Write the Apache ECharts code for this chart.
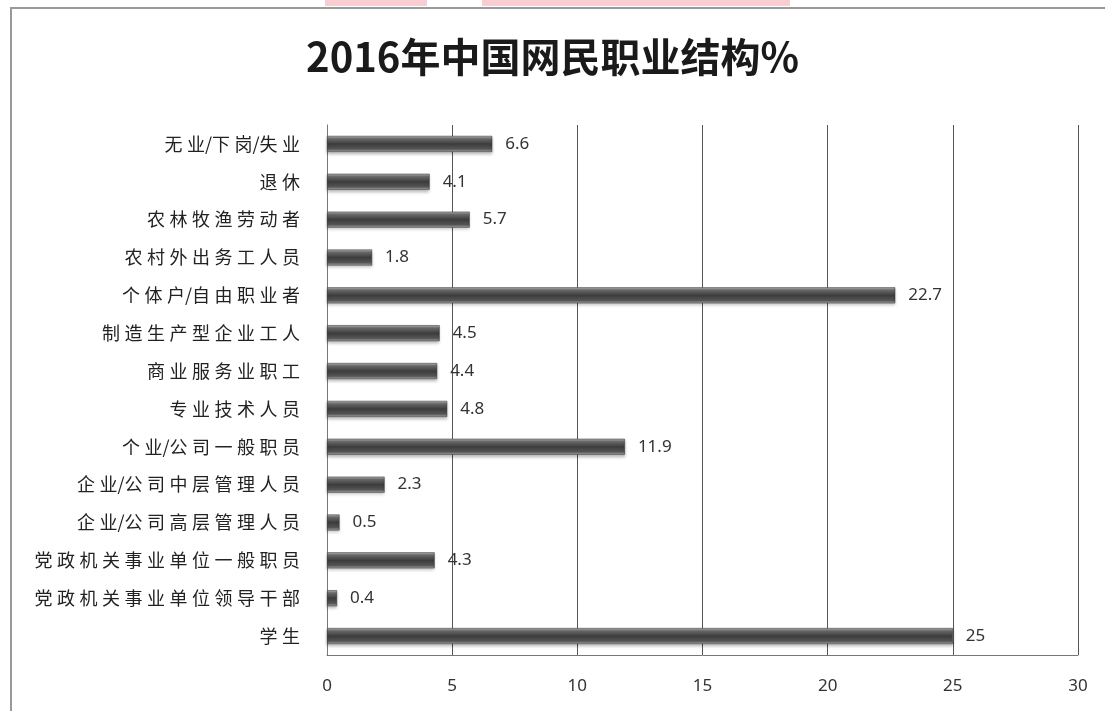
<!DOCTYPE html>
<html>
<head>
<meta charset="utf-8">
<title>2016年中国网民职业结构</title>
<script src="https://cdn.jsdelivr.net/npm/echarts@6/dist/echarts.min.js"></script>
<style>
	html, body { margin: 0; padding: 0; background: #fff; }
	#chart { width: 1105px; height: 711px; }
</style>
</head>
<body>
<div id="chart"></div>
<script>
// 职业分类（从上到下）
const categories = [
	"无业/下岗/失业",
	"退休",
	"农林牧渔劳动者",
	"农村外出务工人员",
	"个体户/自由职业者",
	"制造生产型企业工人",
	"商业服务业职工",
	"专业技术人员",
	"个业/公司一般职员",
	"企业/公司中层管理人员",
	"企业/公司高层管理人员",
	"党政机关事业单位一般职员",
	"党政机关事业单位领导干部",
	"学生",
];
// 占比 %
const values = [6.6, 4.1, 5.7, 1.8, 22.7, 4.5, 4.4, 4.8, 11.9, 2.3, 0.5, 4.3, 0.4, 25];
const xTicks = [0, 5, 10, 15, 20, 25, 30];

const chart = echarts.init(document.getElementById("chart"));

// 圆柱感的灰色渐变
const barColor = new echarts.graphic.LinearGradient(0, 0, 0, 1, [
	{ offset: 0, color: "#b5b5b5" },
	{ offset: 0.18, color: "#6a6a6a" },
	{ offset: 0.5, color: "#3c3c3c" },
	{ offset: 0.82, color: "#555555" },
	{ offset: 1, color: "#a8a8a8" },
]);

chart.setOption({
	backgroundColor: "#fff",
	animation: false,
	title: {
		text: "2016年中国网民职业结构%",
		left: "center",
		top: 32,
		textStyle: {
			fontFamily: "Noto Sans CJK SC",
			fontSize: 40,
			fontWeight: "bold",
			color: "#1a1a1a",
		},
	},
	graphic: [
		// 外框（上边与左边）
		{ type: "line", shape: { x1: 10, y1: 8, x2: 1105, y2: 8 }, style: { stroke: "#999", lineWidth: 2 } },
		{ type: "line", shape: { x1: 11, y1: 8, x2: 11, y2: 711 }, style: { stroke: "#999", lineWidth: 2 } },
		// 顶部粉色水印块
		{ type: "rect", shape: { x: 325, y: 0, width: 102, height: 6 }, style: { fill: "#f9cdd1" } },
		{ type: "rect", shape: { x: 482, y: 0, width: 308, height: 6 }, style: { fill: "#f9cdd1" } },
	],
	grid: {
		left: 327,
		right: 27,
		top: 125,
		bottom: 56,
	},
	xAxis: {
		type: "value",
		min: 0,
		max: 30,
		interval: 5,
		axisLine: { show: true, lineStyle: { color: "#777", width: 1 } },
		axisTick: { show: false },
		splitLine: { show: true, lineStyle: { color: "#555", width: 1 } },
		axisLabel: {
			margin: 23,
			fontFamily: "Noto Sans",
			fontSize: 17,
			color: "#333",
			formatter: (v) => (xTicks.includes(v) ? String(v) : ""),
		},
	},
	yAxis: {
		type: "category",
		data: categories,
		inverse: true,
		axisLine: { show: true, lineStyle: { color: "#777", width: 1 } },
		axisTick: { show: false },
		axisLabel: {
			margin: 27,
			fontFamily: "Noto Sans CJK SC",
			fontSize: 18,
			color: "#222",
			// 原图字距较宽，斜杠两侧不加空隙
			formatter: (v) => v.replace(/([^\/])(?=[^\/])/g, "$1\u2005"),
		},
	},
	series: [
		{
			type: "bar",
			data: values,
			barWidth: 16,
			itemStyle: {
				color: barColor,
				borderColor: "#2e2e2e",
				borderWidth: 0.5,
				shadowColor: "rgba(0,0,0,0.25)",
				shadowBlur: 3,
				shadowOffsetY: 2,
			},
			label: {
				show: true,
				position: "right",
				distance: 13,
				fontFamily: "Noto Sans",
				fontSize: 17,
				color: "#333",
			},
		},
	],
});
</script>
</body>
</html>
